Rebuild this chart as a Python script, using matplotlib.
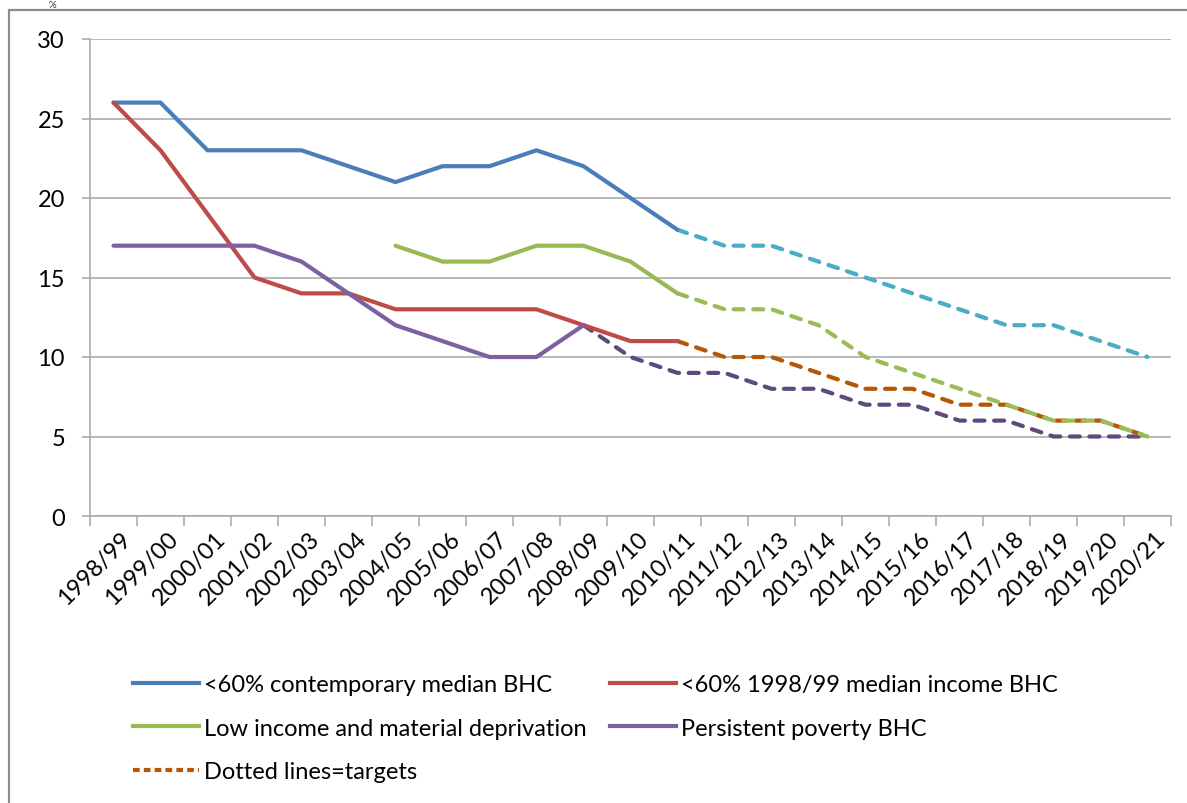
import numpy as np
import matplotlib.pyplot as plt
import matplotlib.transforms as mtransforms
from matplotlib.lines import Line2D
from matplotlib.patches import Rectangle

# Data
years = ["1998/99", "1999/00", "2000/01", "2001/02", "2002/03", "2003/04", "2004/05",
         "2005/06", "2006/07", "2007/08", "2008/09", "2009/10", "2010/11", "2011/12",
         "2012/13", "2013/14", "2014/15", "2015/16", "2016/17", "2017/18", "2018/19",
         "2019/20", "2020/21"]
nan = np.nan

# actual series (solid)
contemporary = [26, 26, 23, 23, 23, 22, 21, 22, 22, 23, 22, 20, 18] + [nan] * 10
fixed_1998 = [26, 23, 19, 15, 14, 14, 13, 13, 13, 13, 12, 11, 11] + [nan] * 10
low_income_dep = [nan] * 6 + [17, 16, 16, 17, 17, 16, 14] + [nan] * 10
persistent = [17, 17, 17, 17, 16, 14, 12, 11, 10, 10, 12] + [nan] * 12

# target series (dashed)
contemporary_target = [nan] * 12 + [18, 17, 17, 16, 15, 14, 13, 12, 12, 11, 10]
fixed_1998_target = [nan] * 12 + [11, 10, 10, 9, 8, 8, 7, 7, 6, 6, 5]
low_income_target = [nan] * 12 + [14, 13, 13, 12, 10, 9, 8, 7, 6, 6, 5]
persistent_target = [nan] * 10 + [12, 10, 9, 9, 8, 8, 7, 7, 6, 6, 5, 5, 5]

legend_labels = ["<60% contemporary median BHC", "<60% 1998/99 median income BHC",
                 "Low income and material deprivation", "Persistent poverty BHC",
                 "Dotted lines=targets"]

plt.rcParams['font.family'] = ['Lato', 'DejaVu Sans']

fig = plt.figure(figsize=(11.87, 8.04), dpi=100)
ax = fig.add_axes([90 / 1187, 1 - 517 / 804, 1081 / 1187, 477 / 804])

x = np.arange(len(years))
lw = 3.0
dash = (2.4, 2.3)

ax.plot(x, contemporary_target, color='#4BACC6', lw=lw, ls=(0, dash), dash_capstyle='round')
ax.plot(x, persistent_target, color='#5F4A7E', lw=lw, ls=(0, dash), dash_capstyle='round')
ax.plot(x, fixed_1998_target, color='#B65708', lw=lw, ls=(0, dash), dash_capstyle='round')
ax.plot(x, low_income_target, color='#9BBB59', lw=lw, ls=(0, dash), dash_capstyle='round')

ax.plot(x, contemporary, color='#4A7EBB', lw=lw, solid_capstyle='round')
ax.plot(x, fixed_1998, color='#BE4B48', lw=lw, solid_capstyle='round')
ax.plot(x, low_income_dep, color='#98B954', lw=lw, solid_capstyle='round')
ax.plot(x, persistent, color='#7D60A0', lw=lw, solid_capstyle='round')

# axes like an Excel chart
ax.set_xlim(-0.5, len(years) - 0.5)
ax.set_ylim(0, 30)
ax.set_yticks(range(0, 31, 5))
ax.yaxis.grid(True, color='#A6A6A6', lw=1.1)
ax.set_axisbelow(True)
for s in ['top', 'right']:
    ax.spines[s].set_visible(False)
for s in ['left', 'bottom']:
    ax.spines[s].set_color('#A6A6A6')
    ax.spines[s].set_linewidth(1.1)

ax.set_xticks(x)
ax.set_xticklabels(years, rotation=45, ha='right', rotation_mode='anchor')
ax.set_xticks(np.arange(-0.5, len(years), 1), minor=True)
ax.tick_params(axis='x', which='major', length=0, pad=8, labelsize=17)
ax.tick_params(axis='x', which='minor', length=7, width=1.1, color='#A6A6A6')
ax.tick_params(axis='y', length=6, width=1.1, color='#A6A6A6', labelsize=17, pad=12)

# nudge the slanted year labels a bit to the right
shift = mtransforms.ScaledTranslation(7 / 100, 0, fig.dpi_scale_trans)
for lab in ax.get_xticklabels():
    lab.set_transform(lab.get_transform() + shift)

# legend, filled row by row
handles = [Line2D([], [], color='#4A7EBB', lw=lw),
           Line2D([], [], color='#98B954', lw=lw),
           Line2D([], [], color='#B65708', lw=lw, ls=(0, (1.6, 1.0))),
           Line2D([], [], color='#BE4B48', lw=lw),
           Line2D([], [], color='#7D60A0', lw=lw)]
labels = [legend_labels[0], legend_labels[2], legend_labels[4], legend_labels[1], legend_labels[3]]
fig.legend(handles, labels, ncol=2, loc='upper left', bbox_to_anchor=(112 / 1187, 1 - 654 / 804),
           frameon=False, fontsize=17, handlelength=2.8, handletextpad=0.2,
           columnspacing=1.0, labelspacing=0.95)

# outer chart frame and the small label above it
fig.patches.append(Rectangle((9 / 1187, -0.1), 1.2, 1.1 - 11 / 804, transform=fig.transFigure,
                             fill=False, edgecolor='#8C8C8C', lw=1.6))
fig.text(52 / 1187, 0.999, '%', ha='center', va='top', fontsize=7, color='#3A2A20')

fig.savefig('out.png', dpi=100)
